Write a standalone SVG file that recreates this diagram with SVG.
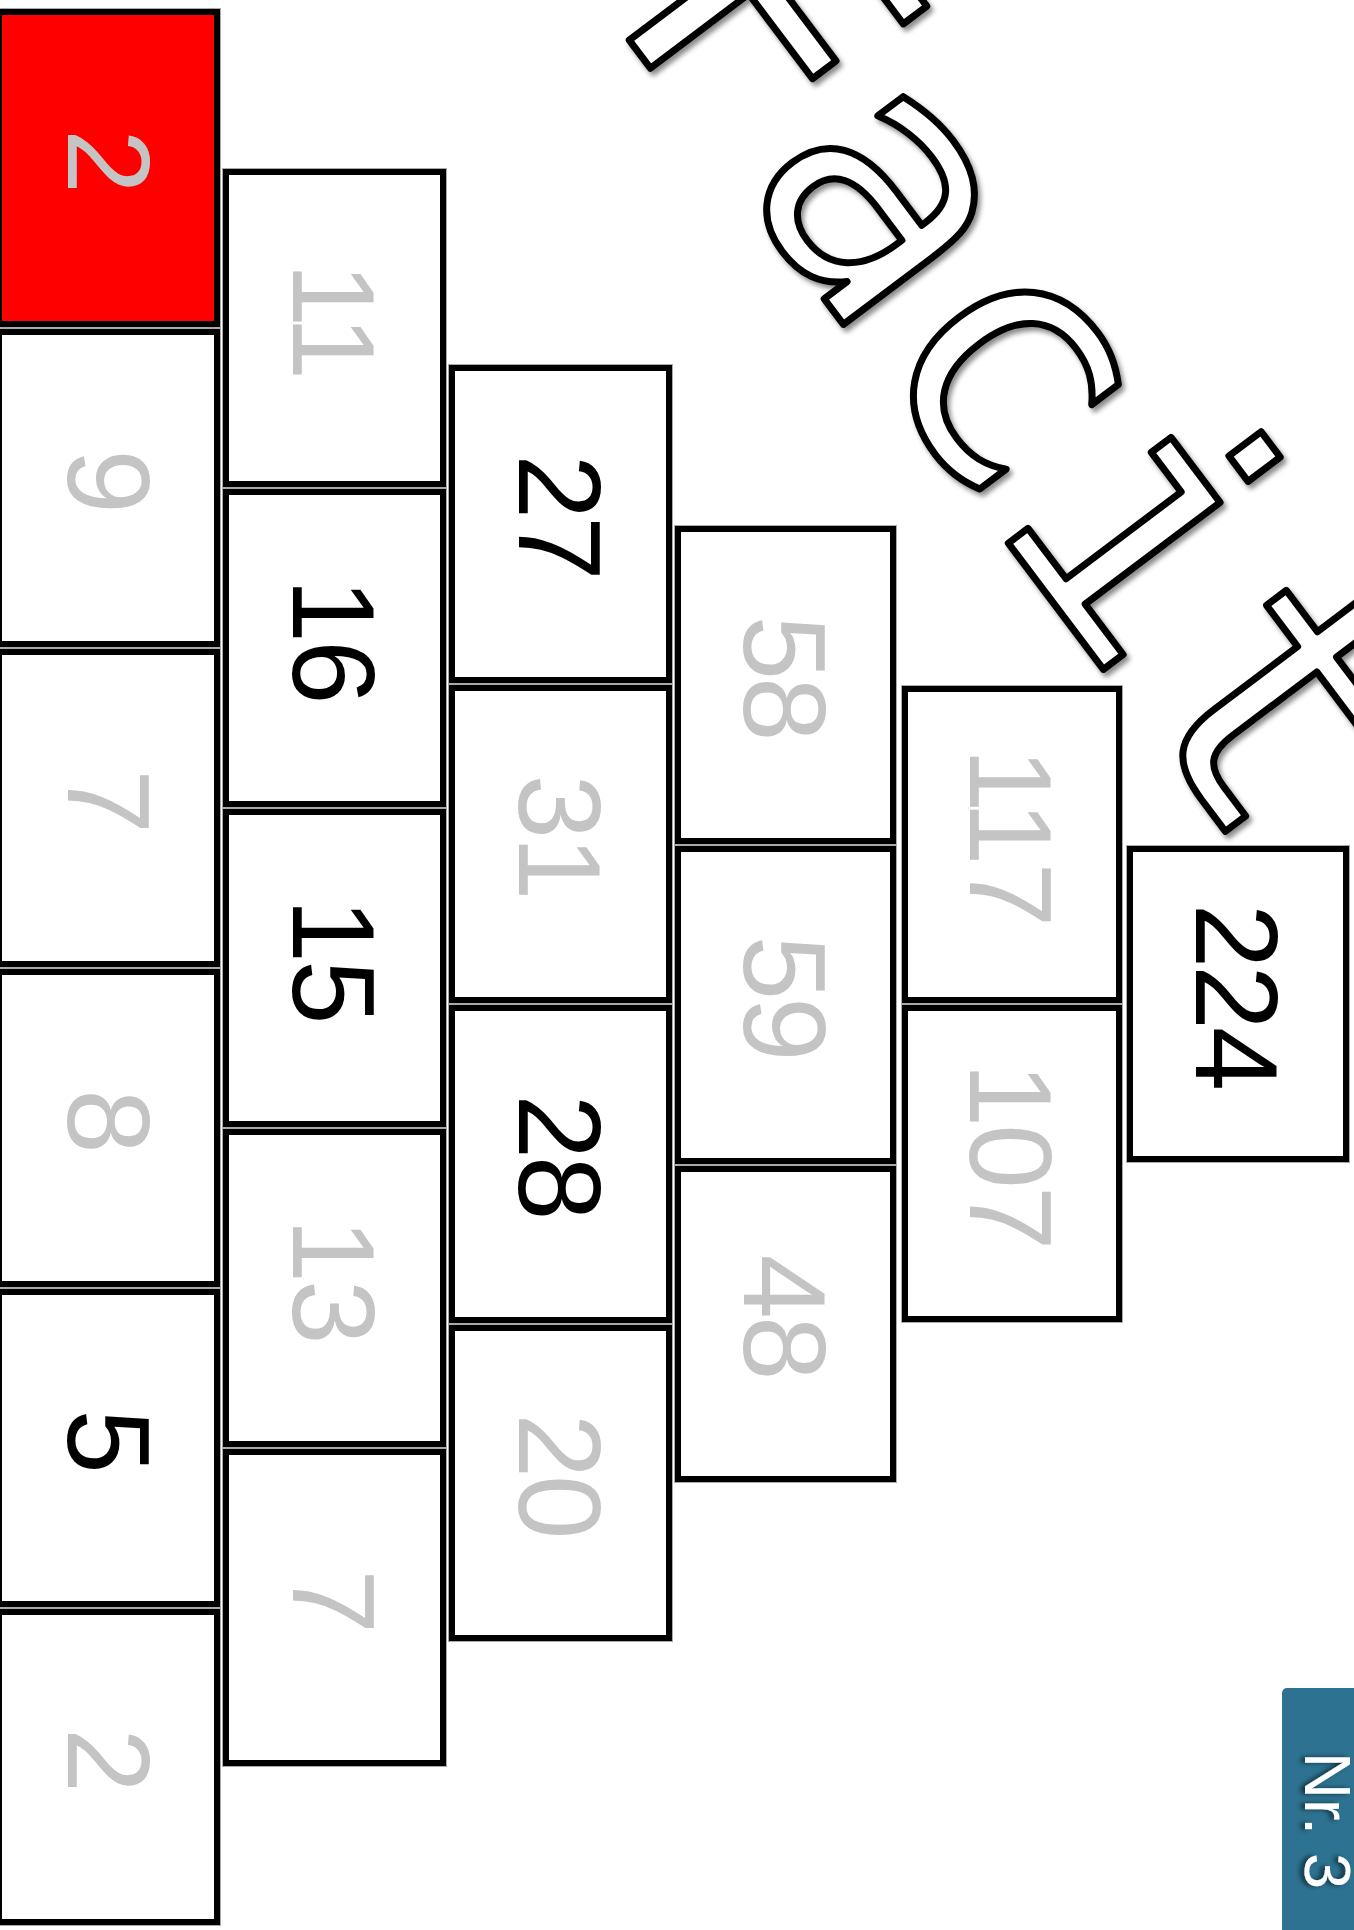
<svg xmlns="http://www.w3.org/2000/svg" width="1354" height="1930" viewBox="0 0 1354 1930">
<defs>
<style>
.b{fill:#fff;stroke:#000;stroke-width:7}
.r{fill:#ff0000;stroke:#000;stroke-width:7}
.o{fill:none;stroke:#aaa;stroke-width:1}
.n{font-family:"Liberation Sans",Arial,sans-serif;font-size:116px;text-anchor:middle;letter-spacing:-3px}
.g{fill:#c4c4c4}
.k{fill:#000}
.title{font-family:"DejaVu Sans Mono",monospace;font-size:354px;fill:#fff;stroke:#000;stroke-width:7;stroke-linejoin:round}
.tab{font-family:"Liberation Sans",Arial,sans-serif;font-size:65px;fill:#fff}
</style>
<filter id="sh" x="-10%" y="-10%" width="120%" height="120%">
<feDropShadow dx="3" dy="4" stdDeviation="2.5" flood-color="#000" flood-opacity="0.45"/>
</filter>
<filter id="sh2" x="-20%" y="-20%" width="140%" height="140%">
<feDropShadow dx="0" dy="4" stdDeviation="2.5" flood-color="#000" flood-opacity="0.6"/>
</filter>
</defs>
<rect width="1354" height="1930" fill="#fff"/>

<g id="title" filter="url(#sh)">
<text class="title" transform="translate(605,8) rotate(53)">Facit</text>
</g>

<g id="connectors"></g>

<!-- Column 1 -->
<g id="n1-1"><rect class="r" x="-1.5" y="11.5" width="219" height="313"/><rect class="o" x="-4.5" y="8.5" width="225" height="319"/><text class="n g" transform="translate(68,160) rotate(90)">2</text></g>
<g id="n1-2"><rect class="b" x="-1.5" y="331.5" width="219" height="313"/><rect class="o" x="-4.5" y="328.5" width="225" height="319"/><text class="n g" transform="translate(68,480) rotate(90)">9</text></g>
<g id="n1-3"><rect class="b" x="-1.5" y="651.5" width="219" height="313"/><rect class="o" x="-4.5" y="648.5" width="225" height="319"/><text class="n g" transform="translate(68,800) rotate(90)">7</text></g>
<g id="n1-4"><rect class="b" x="-1.5" y="971.5" width="219" height="313"/><rect class="o" x="-4.5" y="968.5" width="225" height="319"/><text class="n g" transform="translate(68,1120) rotate(90)">8</text></g>
<g id="n1-5"><rect class="b" x="-1.5" y="1291.5" width="219" height="313"/><rect class="o" x="-4.5" y="1288.5" width="225" height="319"/><text class="n k" transform="translate(68,1440) rotate(90)">5</text></g>
<g id="n1-6"><rect class="b" x="-1.5" y="1611.5" width="219" height="311"/><rect class="o" x="-4.5" y="1608.5" width="225" height="317"/><text class="n g" transform="translate(68,1759) rotate(90)">2</text></g>

<!-- Column 2 -->
<g id="n2-1"><rect class="b" x="225.5" y="171.5" width="218" height="313"/><rect class="o" x="222.5" y="168.5" width="224" height="319"/><text class="n g" transform="translate(293,320) rotate(90)">11</text></g>
<g id="n2-2"><rect class="b" x="225.5" y="491.5" width="218" height="313"/><rect class="o" x="222.5" y="488.5" width="224" height="319"/><text class="n k" transform="translate(293,640) rotate(90)">16</text></g>
<g id="n2-3"><rect class="b" x="225.5" y="811.5" width="218" height="313"/><rect class="o" x="222.5" y="808.5" width="224" height="319"/><text class="n k" transform="translate(293,960) rotate(90)">15</text></g>
<g id="n2-4"><rect class="b" x="225.5" y="1131.5" width="218" height="313"/><rect class="o" x="222.5" y="1128.5" width="224" height="319"/><text class="n g" transform="translate(293,1280) rotate(90)">13</text></g>
<g id="n2-5"><rect class="b" x="225.5" y="1451.5" width="218" height="312"/><rect class="o" x="222.5" y="1448.5" width="224" height="318"/><text class="n g" transform="translate(293,1600) rotate(90)">7</text></g>

<!-- Column 3 -->
<g id="n3-1"><rect class="b" x="451.5" y="367.5" width="218" height="313"/><rect class="o" x="448.5" y="364.5" width="224" height="319"/><text class="n k" transform="translate(519,516) rotate(90)">27</text></g>
<g id="n3-2"><rect class="b" x="451.5" y="687.5" width="218" height="313"/><rect class="o" x="448.5" y="684.5" width="224" height="319"/><text class="n g" transform="translate(519,836) rotate(90)">31</text></g>
<g id="n3-3"><rect class="b" x="451.5" y="1007.5" width="218" height="313"/><rect class="o" x="448.5" y="1004.5" width="224" height="319"/><text class="n k" transform="translate(519,1156) rotate(90)">28</text></g>
<g id="n3-4"><rect class="b" x="451.5" y="1327.5" width="218" height="311"/><rect class="o" x="448.5" y="1324.5" width="224" height="317"/><text class="n g" transform="translate(519,1475) rotate(90)">20</text></g>

<!-- Column 4 -->
<g id="n4-1"><rect class="b" x="677.5" y="528.5" width="216" height="313"/><rect class="o" x="674.5" y="525.5" width="222" height="319"/><text class="n g" transform="translate(744,677) rotate(90)">58</text></g>
<g id="n4-2"><rect class="b" x="677.5" y="848.5" width="216" height="313"/><rect class="o" x="674.5" y="845.5" width="222" height="319"/><text class="n g" transform="translate(744,997) rotate(90)">59</text></g>
<g id="n4-3"><rect class="b" x="677.5" y="1168.5" width="216" height="311"/><rect class="o" x="674.5" y="1165.5" width="222" height="317"/><text class="n g" transform="translate(744,1316) rotate(90)">48</text></g>

<!-- Column 5 -->
<g id="n5-1"><rect class="b" x="904.5" y="688.5" width="215" height="312"/><rect class="o" x="901.5" y="685.5" width="221" height="318"/><text class="n g" transform="translate(970,836) rotate(90)">117</text></g>
<g id="n5-2"><rect class="b" x="904.5" y="1007.5" width="215" height="312"/><rect class="o" x="901.5" y="1004.5" width="221" height="318"/><text class="n g" transform="translate(970,1155) rotate(90)">107</text></g>

<!-- Column 6 -->
<g id="n6-1"><rect class="b" x="1129.5" y="848.5" width="217" height="311"/><rect class="o" x="1126.5" y="845.5" width="223" height="317"/><text class="n k" transform="translate(1196,996) rotate(90)">224</text></g>

<!-- Tab -->
<g id="tab">
<rect x="1282" y="1688" width="90" height="260" rx="5" fill="#2d7290"/>
<text class="tab" filter="url(#sh2)" transform="translate(1305,1752) rotate(90)">Nr. 3</text>
</g>
</svg>
